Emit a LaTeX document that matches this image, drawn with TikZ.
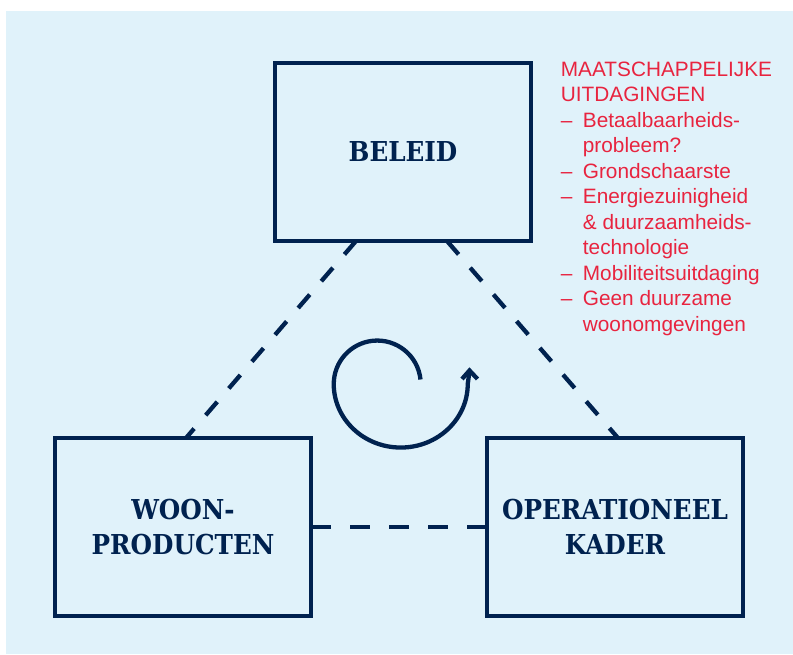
\documentclass[tikz,border=0pt]{standalone}
\usepackage{fontspec}
\setmainfont{Liberation Sans}
\newfontfamily\slabfont{DejaVu Serif Condensed}[BoldFont={DejaVu Serif Condensed Bold}]
\usetikzlibrary{calc}
\definecolor{navy}{HTML}{00224F}
\definecolor{panel}{HTML}{E0F2FA}
\definecolor{alert}{HTML}{E8243F}
\begin{document}
\begin{tikzpicture}[x=1pt,y=-1pt,
  box/.style={draw=navy, line width=4.3pt, minimum width=256pt, minimum height=178pt,
    inner sep=0pt, outer sep=0pt, align=center, text=navy,
    font=\slabfont\bfseries\fontsize{27.4}{35}\selectfont},
  link/.style={draw=navy, line width=4.3pt},
  cycleline/.style={draw=navy, line width=4.3pt}]
  \useasboundingbox (0,0) rectangle (793,654);
  \fill[panel] (6,11) rectangle (793,654);

  % the three boxes
  \node[box] (beleid) at (403,152) {BELEID};
  \node[box] (woon) at (183,527) {WOON-\\PRODUCTEN};
  \node[box] (oper) at (615,527) {OPERATIONEEL\\KADER};

  % dashed links between the boxes
  \coordinate (bl) at ($(beleid.south)+(-47,0)$);
  \coordinate (br) at ($(beleid.south)+(44,0)$);
  \coordinate (wt) at ($(woon.north)+(3,0)$);
  \coordinate (ot) at ($(oper.north)+(3,0)$);
  \draw[link, dash pattern=on 17.7pt off 17.7pt] (bl) -- (wt);
  \draw[link, dash pattern=on 17.7pt off 17.7pt] (br) -- (ot);
  \draw[link, dash pattern=on 19.56pt off 19.56pt] (woon.east) -- (oper.west);

  % circular arrow in the middle
  \draw[cycleline] (420.5,379.5) arc[start angle=-6, end angle=-180, radius=43.5]
    arc[start angle=-180, end angle=-360, x radius=67, y radius=63.5]
    -- (469.5,371);
  \draw[cycleline, line join=miter] (462,379) -- (469.5,370.5) -- (477.5,379);

  % list of challenges
  \node[anchor=base west, text=alert, inner sep=0pt, font=\fontsize{20.8}{25.5}\selectfont]
    (issues) at (560.7,76) {\begin{tabular}[t]{@{}l@{}l@{}}
      \multicolumn{2}{@{}l@{}}{MAATSCHAPPELIJKE}\\
      \multicolumn{2}{@{}l@{}}{UITDAGINGEN}\\
      \makebox[22pt][l]{–} & Betaalbaarheids-\\
       & probleem?\\
      \makebox[22pt][l]{–} & Grondschaarste\\
      \makebox[22pt][l]{–} & Energiezuinigheid\\
       & \& duurzaamheids-\\
       & technologie\\
      \makebox[22pt][l]{–} & Mobiliteitsuitdaging\\
      \makebox[22pt][l]{–} & Geen duurzame\\
       & woonomgevingen
    \end{tabular}};
\end{tikzpicture}
\end{document}
